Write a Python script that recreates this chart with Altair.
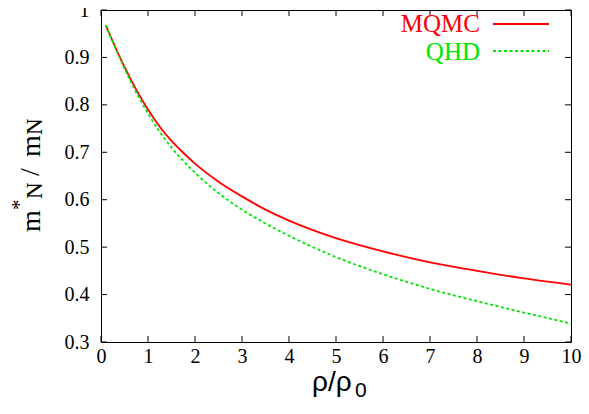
import altair as alt
import pandas as pd

# ---- data ----
rho = [0.1, 0.25, 0.5, 0.75, 1.0, 1.25, 1.5, 1.75, 2.0, 2.5, 3.0, 3.5, 4.0,
       5.0, 6.0, 7.0, 8.0, 9.0, 10.0]
mqmc = [0.968, 0.934, 0.880, 0.832, 0.790, 0.754, 0.724, 0.699, 0.676, 0.638, 0.607,
        0.579, 0.556, 0.519, 0.491, 0.468, 0.450, 0.434, 0.421]
qhd = [0.968, 0.933, 0.877, 0.826, 0.782, 0.743, 0.710, 0.682, 0.657, 0.614, 0.579,
       0.550, 0.524, 0.479, 0.443, 0.412, 0.386, 0.362, 0.339]
x_ticks = [0, 1, 2, 3, 4, 5, 6, 7, 8, 9, 10]
y_ticks = [0.3, 0.4, 0.5, 0.6, 0.7, 0.8, 0.9, 1.0]
series_names = ["MQMC", "QHD"]
series_colors = ["#ff0000", "#00e600"]

W, H = 470, 332
PL, PT, PR, PB = 93, 2, 10, 60
SERIF = "Liberation Serif, Times New Roman, serif"
SANS = "Liberation Sans, Arial, sans-serif"

df_red = pd.DataFrame({"x": rho, "y": mqmc})
df_green = pd.DataFrame({"x": rho, "y": qhd})
df_xt = pd.DataFrame({"x": x_ticks})
df_yt = pd.DataFrame({"y": y_ticks})
one = pd.DataFrame({"a": [0]})

xs = alt.Scale(domain=[0, 10], nice=False, zero=False)
ys = alt.Scale(domain=[0.3, 1.0], nice=False, zero=False)

common = dict(title=None, labelFont=SERIF, labelFontSize=20, labelColor="black",
              ticks=False, domain=False, grid=False, labelFlush=False,
              labelOverlap=False)
x_axis = alt.Axis(values=x_ticks, format="d", labelPadding=4, **common)
y_axis = alt.Axis(values=y_ticks, format=".1~f", labelPadding=12, **common)

X = alt.X("x:Q", scale=xs, axis=x_axis)
Y = alt.Y("y:Q", scale=ys, axis=y_axis)

red = alt.Chart(df_red).mark_line(color=series_colors[0], strokeWidth=1.8,
                                  interpolate="monotone").encode(x=X, y=Y)
green = alt.Chart(df_green).mark_line(color=series_colors[1], strokeWidth=1.8,
                                      strokeDash=[3, 2.5],
                                      interpolate="monotone").encode(x=X, y=Y)

TL = 6
tick_bottom = alt.Chart(df_xt).mark_rule(color="black", strokeWidth=1).encode(
    x=X, y=alt.value(H), y2=alt.value(H - TL))
tick_top = alt.Chart(df_xt).mark_rule(color="black", strokeWidth=1).encode(
    x=X, y=alt.value(0), y2=alt.value(TL))
tick_left = alt.Chart(df_yt).mark_rule(color="black", strokeWidth=1).encode(
    y=Y, x=alt.value(0), x2=alt.value(TL))
tick_right = alt.Chart(df_yt).mark_rule(color="black", strokeWidth=1).encode(
    y=Y, x=alt.value(W), x2=alt.value(W - TL))


def txt(s, x, y, size, font=SERIF, color="black", align="left", angle=0,
        baseline="alphabetic"):
    kw = dict(text=s, font=font, fontSize=size, color=color, align=align,
              baseline=baseline)
    if angle:
        kw["angle"] = angle
    return alt.Chart(one).mark_text(**kw).encode(x=alt.value(x), y=alt.value(y))


OX, OY = 8 + PL, 8 + PT  # plot origin on the page

# legend (label left of sample line)
leg = [
    txt(series_names[0], 480 - OX, 32 - OY, 25, color=series_colors[0], align="right"),
    txt(series_names[1], 480 - OX, 60 - OY, 25, color=series_colors[1], align="right"),
    alt.Chart(one).mark_rule(color=series_colors[0], strokeWidth=1.8).encode(
        x=alt.value(493 - OX), x2=alt.value(549 - OX), y=alt.value(24 - OY)),
    alt.Chart(one).mark_rule(color=series_colors[1], strokeWidth=1.8,
                             strokeDash=[3, 2.5]).encode(
        x=alt.value(493 - OX), x2=alt.value(549 - OX), y=alt.value(51 - OY)),
]

# y-axis title  m*_N / m_N  (rotated, reading bottom to top)
ytitle = [
    txt("m", 40 - OX, 232 - OY, 28, angle=270),
    txt("*", 26 - OX, 210 - OY, 21, angle=270),
    txt("N", 42 - OX, 199 - OY, 23, angle=270),
    txt("/", 39 - OX, 176 - OY, 28, angle=270),
    txt("m", 40 - OX, 157 - OY, 28, angle=270),
    txt("N", 42 - OX, 135 - OY, 23, angle=270),
]
# x-axis title  rho/rho_0
xtitle = [
    txt("ρ/ρ", 312 - OX, 391 - OY, 28, font=SANS),
    txt("0", 355 - OX, 397 - OY, 21, font=SANS),
]

chart = alt.layer(
    red, green, tick_bottom, tick_top, tick_left, tick_right, *leg, *ytitle, *xtitle
).properties(
    width=W, height=H,
    background="white",
    autosize=alt.AutoSizeParams(type="none"),
    padding={"left": PL, "top": PT, "right": PR, "bottom": PB},
).configure_axis(
    labelFont=SERIF, labelFontSize=20, labelColor="black", ticks=False,
    domain=False, grid=False, labelFlush=False, labelOverlap=False,
).configure_view(stroke="black", strokeWidth=1)

chart.save("out.html", embed_options={"renderer": "svg", "actions": False})
